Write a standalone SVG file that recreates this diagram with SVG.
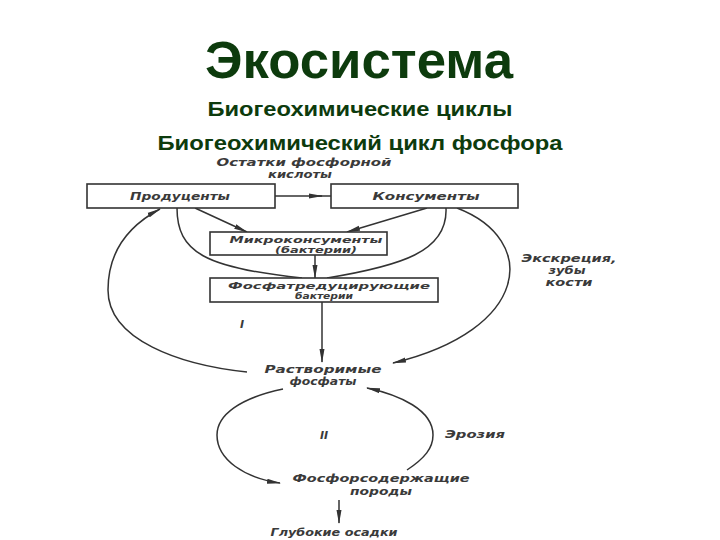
<svg xmlns="http://www.w3.org/2000/svg" width="720" height="540" viewBox="0 0 720 540">
<style>
.t1{font-family:"Liberation Sans",Arial,sans-serif;font-weight:bold;fill:#0d3b0d;text-anchor:middle}
.lb{font-family:"DejaVu Sans","Liberation Sans",sans-serif;font-style:italic;font-weight:bold;font-size:11px;fill:#3a3a3a;text-anchor:middle}
.sm{font-size:9px}
.box{fill:#fff;stroke:#333;stroke-width:1.6}
.ln{fill:none;stroke:#333;stroke-width:1.5}
</style>
<defs>
<marker id="ah" viewBox="0 0 14 6" refX="13" refY="3" markerWidth="14" markerHeight="6" markerUnits="userSpaceOnUse" orient="auto">
<path d="M0,0.5 L14,3 L0,5.5 Z" fill="#333"/>
</marker>
</defs>
<rect width="720" height="540" fill="#fff"/>
<g id="titles">
<text class="t1" x="359" y="78" font-size="52" textLength="308" lengthAdjust="spacingAndGlyphs">Экосистема</text>
<text class="t1" x="360" y="116" font-size="21" textLength="305" lengthAdjust="spacingAndGlyphs">Биогеохимические циклы</text>
<text class="t1" x="360" y="150" font-size="21" textLength="405" lengthAdjust="spacingAndGlyphs">Биогеохимический цикл фосфора</text>
</g>
<g id="connectors">
<path class="ln" d="M275,196 H322" marker-end="url(#ah)"/>
<path class="ln" d="M318,196 H331"/>
<path class="ln" d="M195,208 L247,232" marker-end="url(#ah)"/>
<path class="ln" d="M427,208 L347,232" marker-end="url(#ah)"/>
<path class="ln" d="M177,208 C177,252 205,268 302,278"/>
<path class="ln" d="M446,208 C448,252 400,266 327,278"/>
<path class="ln" d="M457,208 C540,240 530,330 393,363" marker-end="url(#ah)"/>
<path class="ln" d="M247,372 C180,365 108,340 108,290 C108,250 130,225 160,209" marker-end="url(#ah)"/>
<path class="ln" d="M315,255 V278" marker-end="url(#ah)"/>
<path class="ln" d="M322,302 V362" marker-end="url(#ah)"/>
<path class="ln" d="M283,389 C240,398 217,415 217,435 C217,460 245,478 280,483" marker-end="url(#ah)"/>
<path class="ln" d="M407,470 C425,458 433,448 433,435 C433,410 400,395 367,388" marker-end="url(#ah)"/>
<path class="ln" d="M339,500 V523" marker-end="url(#ah)"/>
</g>
<g id="residues">
<text class="lb" x="304" y="166" textLength="175" lengthAdjust="spacingAndGlyphs">Остатки фосфорной</text>
<text class="lb" x="300" y="178" textLength="64" lengthAdjust="spacingAndGlyphs">кислоты</text>
</g>
<g id="producers">
<rect class="box" x="87" y="184" width="188" height="24"/>
<text class="lb" x="180" y="200" textLength="100" lengthAdjust="spacingAndGlyphs">Продуценты</text>
</g>
<g id="consumers">
<rect class="box" x="331" y="184" width="187" height="24"/>
<text class="lb" x="426" y="200" textLength="107" lengthAdjust="spacingAndGlyphs">Консументы</text>
</g>
<g id="microconsumers">
<rect class="box" x="210" y="232" width="177" height="23"/>
<text class="lb sm" x="306" y="242.5" textLength="153" lengthAdjust="spacingAndGlyphs">Микроконсументы</text>
<text class="lb sm" x="316" y="252.5" textLength="82" lengthAdjust="spacingAndGlyphs">(бактерии)</text>
</g>
<g id="phosphate-bacteria">
<rect class="box" x="210" y="278" width="228" height="24"/>
<text class="lb sm" x="329" y="289" textLength="202" lengthAdjust="spacingAndGlyphs">Фосфатредуцирующие</text>
<text class="lb sm" x="324" y="299" textLength="58" lengthAdjust="spacingAndGlyphs">бактерии</text>
</g>
<g id="excretion">
<text class="lb" x="569" y="262" font-size="9.5" textLength="95" lengthAdjust="spacingAndGlyphs">Экскреция,</text>
<text class="lb" x="567" y="274" font-size="9.5" textLength="37" lengthAdjust="spacingAndGlyphs">зубы</text>
<text class="lb" x="569" y="286" font-size="9.5" textLength="47" lengthAdjust="spacingAndGlyphs">кости</text>
</g>
<g id="cycle-1">
<text class="lb" x="242" y="328">I</text>
</g>
<g id="soluble-phosphates">
<text class="lb" x="323" y="373" textLength="117" lengthAdjust="spacingAndGlyphs">Растворимые</text>
<text class="lb" x="323" y="385" textLength="67" lengthAdjust="spacingAndGlyphs">фосфаты</text>
</g>
<g id="cycle-2">
<text class="lb" x="324" y="439">II</text>
</g>
<g id="erosion">
<text class="lb" x="475" y="438" textLength="60" lengthAdjust="spacingAndGlyphs">Эрозия</text>
</g>
<g id="phosphate-rocks">
<text class="lb" x="381" y="482" textLength="177" lengthAdjust="spacingAndGlyphs">Фосфорсодержащие</text>
<text class="lb" x="381" y="495" textLength="62" lengthAdjust="spacingAndGlyphs">породы</text>
</g>
<g id="deep-sediments">
<text class="lb" x="334" y="536" textLength="127" lengthAdjust="spacingAndGlyphs">Глубокие осадки</text>
</g>
</svg>
